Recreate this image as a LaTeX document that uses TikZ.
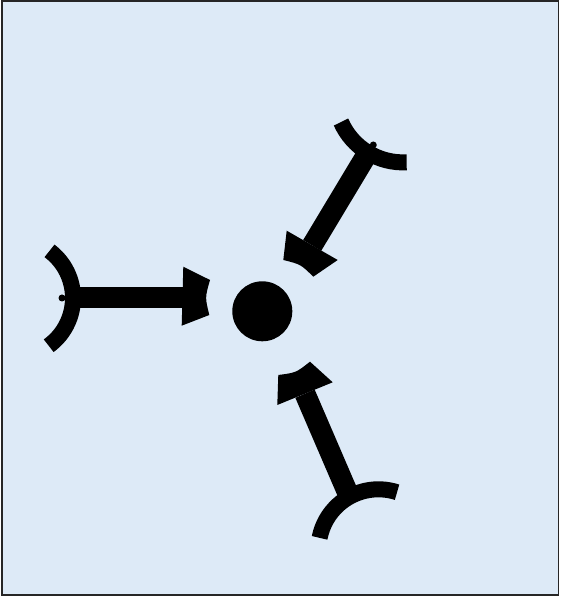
\documentclass[tikz,border=0pt]{standalone}
\usepackage{tikz}
\usetikzlibrary{positioning}
\definecolor{paperblue}{RGB}{221,234,247}

\begin{document}
\begin{tikzpicture}[x=1pt,y=1pt,
  shaft/.style={line width=21pt},
  tailarc/.style={line width=16pt},
  headfill/.style={fill=black}]
  % background sheet and frame
  \useasboundingbox (0,0) rectangle (560,596);
  \fill[paperblue] (2,1) rectangle (558.5,595);
  \draw[line width=1.5pt,black!85] (2,1) rectangle (558.5,595);
  % centre dot
  \node[circle,fill=black,minimum size=60pt,inner sep=0pt] (hub) at (262.3,284.7) {};
  % left arrow (points east)
  \coordinate (lefttail) at (73,298);
  \coordinate (lefthead) at (183,298);
  \draw[tailarc] (14,298) ++(-54:59) arc[start angle=-54,end angle=53,radius=59];
  \fill (62,298) circle (3.5);
  \draw[shaft] (lefttail) -- (lefthead);
  \fill[headfill] (181.7,270.3) -- (183.3,329.3) -- (210,316)
    .. controls (205,298.5) .. (209.3,281) -- cycle;
  % upper arrow (points down-left)
  \coordinate (uptail) at (368,443.4);
  \coordinate (uphead) at (312.2,350.6);
  \draw[tailarc] (403.1,501.6) ++(204:68) arc[start angle=204,end angle=273,radius=68];
  \fill (373.3,451) circle (3.5);
  \draw[shaft] (uptail) -- (uphead);
  \fill[headfill] (286.7,365.3) -- (337.7,336) -- (313.3,319.3)
    .. controls (300.65,331.7) .. (283.3,336) -- cycle;
  % lower arrow (points up-left)
  \coordinate (lowtail) at (349.4,99.2);
  \coordinate (lowhead) at (305,202.3);
  \draw[tailarc] (378.5,46.7) ++(72:60) arc[start angle=72,end angle=169,radius=60];
  \draw[shaft] (lowtail) -- (lowhead);
  \fill[headfill] (332.7,213.7) -- (277.3,191) -- (278.3,221)
    .. controls (296,223.3) .. (310,234.3) -- cycle;
\end{tikzpicture}
\end{document}
